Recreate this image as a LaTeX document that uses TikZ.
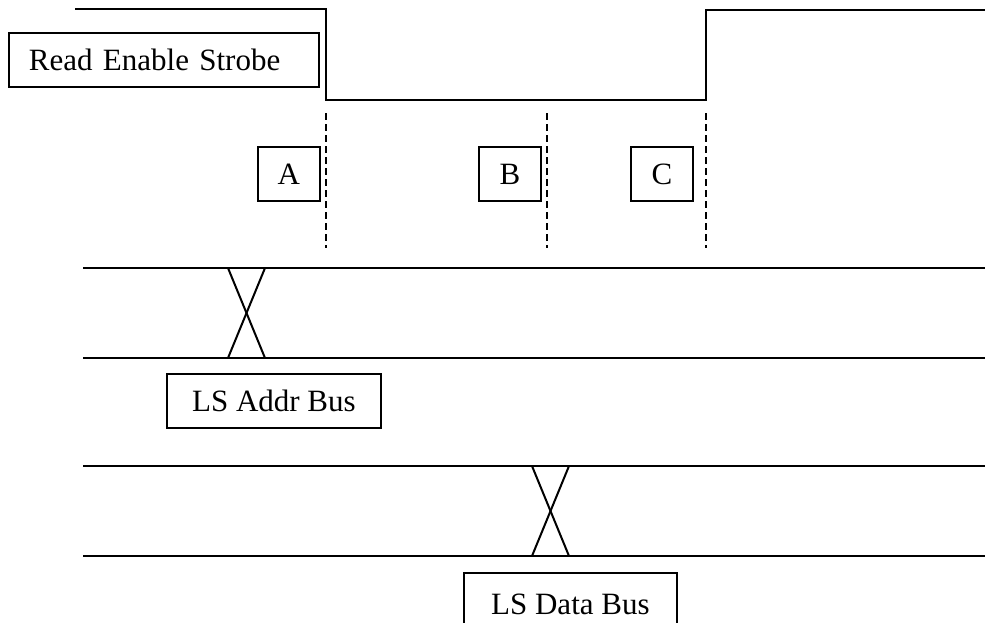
\documentclass[tikz,border=0pt]{standalone}
\usepackage{fontspec}
\setmainfont{Liberation Serif}
\begin{document}
\begin{tikzpicture}[x=1pt, y=-1pt, line width=2pt,
  sig/.style={line width=2pt, line join=miter},
  marker/.style={dash pattern=on 7pt off 4pt, line width=1.8pt},
  lbl/.style={draw, line width=1.8pt, inner sep=0pt, font=\fontsize{31}{37}\selectfont},
  tag/.style={lbl, minimum width=62pt, minimum height=54pt}]
  \useasboundingbox (0,0) rectangle (985,622);
  \clip (0,0) rectangle (985,622);

  % read enable strobe waveform
  \draw[sig] (75,9) -- (326,9) -- (326,100) -- (706,100) -- (706,10) -- (990,10);
  \node[lbl, anchor=north west, minimum height=54pt, text width=270pt,
        inner xsep=20pt, align=left] (res) at (8,32) {Read Enable Strobe};

  % timing markers
  \draw[marker] (326,113) -- (326,248);
  \draw[marker] (547,113) -- (547,248);
  \draw[marker] (706,113) -- (706,248);
  \node[tag, anchor=north west] (ta) at (257,146) {A};
  \node[tag, anchor=north west] (tb) at (478,146) {B};
  \node[tag, anchor=north west] (tc) at (630,146) {C};

  % address bus
  \draw[sig] (83,268) -- (990,268);
  \draw[sig] (83,358) -- (990,358);
  \draw[sig] (228,268) -- (265,358);
  \draw[sig] (265,268) -- (228,358);
  \node[lbl, anchor=north west, minimum width=214pt, minimum height=54pt] (addr) at (166,373) {LS Addr Bus};

  % data bus
  \draw[sig] (83,466) -- (990,466);
  \draw[sig] (83,556) -- (990,556);
  \draw[sig] (532,466) -- (569,556);
  \draw[sig] (569,466) -- (532,556);
  \node[lbl, anchor=north west, minimum width=213pt, minimum height=62pt] (data) at (463,572) {LS Data Bus};
\end{tikzpicture}
\end{document}
